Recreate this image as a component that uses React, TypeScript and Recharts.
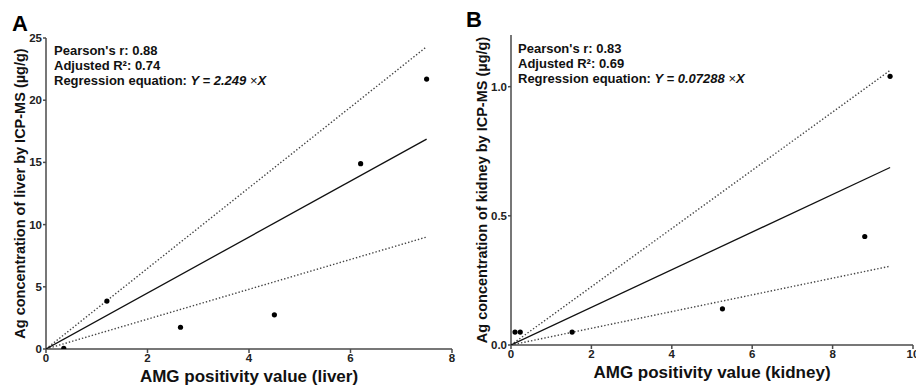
import { ScatterChart, Scatter, XAxis, YAxis, Label } from 'recharts'

// panel A: liver
const liverX = [0.35, 1.2, 2.65, 4.5, 6.2, 7.5]
const liverY = [0.05, 3.85, 1.75, 2.75, 14.9, 21.7]
const liverFit = [{ x: 0, y: 0 }, { x: 7.5, y: 16.87 }]
const liverUpper = [{ x: 0, y: 0 }, { x: 7.5, y: 24.3 }]
const liverLower = [{ x: 0, y: 0 }, { x: 7.5, y: 9.0 }]
const liverXTicks = [0, 2, 4, 6, 8]
const liverYTicks = [0, 5, 10, 15, 20, 25]

// panel B: kidney
const kidneyX = [0.1, 0.23, 1.52, 5.26, 8.8, 9.43]
const kidneyY = [0.05, 0.05, 0.05, 0.14, 0.42, 1.04]
const kidneyFit = [{ x: 0, y: 0 }, { x: 9.43, y: 0.687 }]
const kidneyUpper = [{ x: 0, y: 0 }, { x: 9.43, y: 1.063 }]
const kidneyLower = [{ x: 0, y: 0 }, { x: 9.43, y: 0.305 }]
const kidneyXTicks = [0, 2, 4, 6, 8, 10]
const kidneyYTicks = [0, 0.5, 1.0]

const FONT = '"Liberation Sans", Arial, Helvetica, sans-serif'
const AXIS = '#4a4a4a'
const tickStyle = { fontSize: 11.5, fontWeight: 700, fill: '#222', fontFamily: FONT }
const dotted = { stroke: '#444', strokeWidth: 1.4, strokeDasharray: '1.4 2' }

const toPoints = (xs: number[], ys: number[]) => xs.map((x, i) => ({ x, y: ys[i] }))
const noShape = () => <g />

interface PanelProps {
  points: { x: number; y: number }[]
  fit: { x: number; y: number }[]
  upper: { x: number; y: number }[]
  lower: { x: number; y: number }[]
  xTicks: number[]
  yTicks: number[]
  xDomain: [number, number]
  yDomain: [number, number]
  xTitle: string
  yTitle: string
  yTitleOffset: number
  yFormat?: (v: number) => string
  margin: { top: number; right: number; bottom: number; left: number }
}

function Panel(p: PanelProps) {
  return (
    <ScatterChart width={470} height={389} margin={p.margin}>
      <XAxis
        type="number"
        dataKey="x"
        domain={p.xDomain}
        ticks={p.xTicks}
        allowDataOverflow
        height={34}
        stroke={AXIS}
        strokeWidth={1.5}
        tickSize={4}
        tickMargin={1}
        tick={tickStyle}
        interval={0}
      >
        <Label
          value={p.xTitle}
          position="insideBottom"
          offset={1}
          style={{ fontSize: 17, fontWeight: 700, fill: '#111', fontFamily: FONT }}
        />
      </XAxis>
      <YAxis
        type="number"
        dataKey="y"
        domain={p.yDomain}
        ticks={p.yTicks}
        allowDataOverflow
        width={30}
        stroke={AXIS}
        strokeWidth={1.5}
        tickSize={3}
        tickMargin={1}
        tick={tickStyle}
        tickFormatter={p.yFormat}
        interval={0}
      >
        <Label
          value={p.yTitle}
          angle={-90}
          position="insideLeft"
          offset={p.yTitleOffset}
          style={{ fontSize: 14.5, fontWeight: 700, fill: '#111', fontFamily: FONT, textAnchor: 'middle', whiteSpace: 'pre' }}
        />
      </YAxis>
      <Scatter data={p.upper} line={dotted} shape={noShape} isAnimationActive={false} />
      <Scatter data={p.lower} line={dotted} shape={noShape} isAnimationActive={false} />
      <Scatter data={p.fit} line={{ stroke: '#111', strokeWidth: 1.3 }} shape={noShape} isAnimationActive={false} />
      <Scatter data={p.points} fill="#000" shape={(s: any) => <circle cx={s.cx} cy={s.cy} r={2.6} fill="#000" />} isAnimationActive={false} />
    </ScatterChart>
  )
}

const noteStyle: React.CSSProperties = {
  position: 'absolute',
  fontFamily: FONT,
  fontWeight: 700,
  fontSize: 13,
  lineHeight: '15px',
  color: '#111',
  whiteSpace: 'nowrap'
}

const letterStyle: React.CSSProperties = {
  position: 'absolute',
  fontFamily: FONT,
  fontWeight: 700,
  fontSize: 22,
  lineHeight: '22px',
  color: '#000'
}

export default function App() {
  return (
    <div style={{ position: 'absolute', left: 0, top: 0, width: 916, height: 389, overflow: 'hidden', background: '#fff' }}>
      <div style={{ position: 'absolute', left: 0, top: 0 }}>
        <Panel
          points={toPoints(liverX, liverY)}
          fit={liverFit}
          upper={liverUpper}
          lower={liverLower}
          xTicks={liverXTicks}
          yTicks={liverYTicks}
          xDomain={[0, 8]}
          yDomain={[0, 25]}
          xTitle="AMG positivity value (liver)"
          yTitle="Ag concentration of liver by ICP-MS  (µg/g)"
          yTitleOffset={4}
          margin={{ top: 38, right: 18, bottom: 6, left: 16 }}
        />
      </div>
      <div style={{ position: 'absolute', left: 460, top: 0 }}>
        <Panel
          points={toPoints(kidneyX, kidneyY)}
          fit={kidneyFit}
          upper={kidneyUpper}
          lower={kidneyLower}
          xTicks={kidneyXTicks}
          yTicks={kidneyYTicks}
          xDomain={[0, 10]}
          yDomain={[0, 1.2]}
          xTitle="AMG positivity value (kidney)"
          yTitle="Ag concentration of kidney by ICP-MS  (µg/g)"
          yTitleOffset={1}
          yFormat={(v: number) => v.toFixed(1)}
          margin={{ top: 35, right: 17, bottom: 10, left: 21 }}
        />
      </div>

      <div style={{ ...letterStyle, left: 12, top: 13 }}>A</div>
      <div style={{ ...letterStyle, left: 466, top: 9 }}>B</div>

      <div style={{ ...noteStyle, left: 54, top: 43 }}>
        <div>Pearson's r: 0.88</div>
        <div>Adjusted R²: 0.74</div>
        <div>Regression equation: <i>Y = 2.249 </i><span style={{ fontWeight: 400 }}>×</span><i>X</i></div>
      </div>
      <div style={{ ...noteStyle, left: 518, top: 41 }}>
        <div>Pearson's r: 0.83</div>
        <div>Adjusted R²: 0.69</div>
        <div>Regression equation: <i>Y = 0.07288 </i><span style={{ fontWeight: 400 }}>×</span><i>X</i></div>
      </div>
    </div>
  )
}
